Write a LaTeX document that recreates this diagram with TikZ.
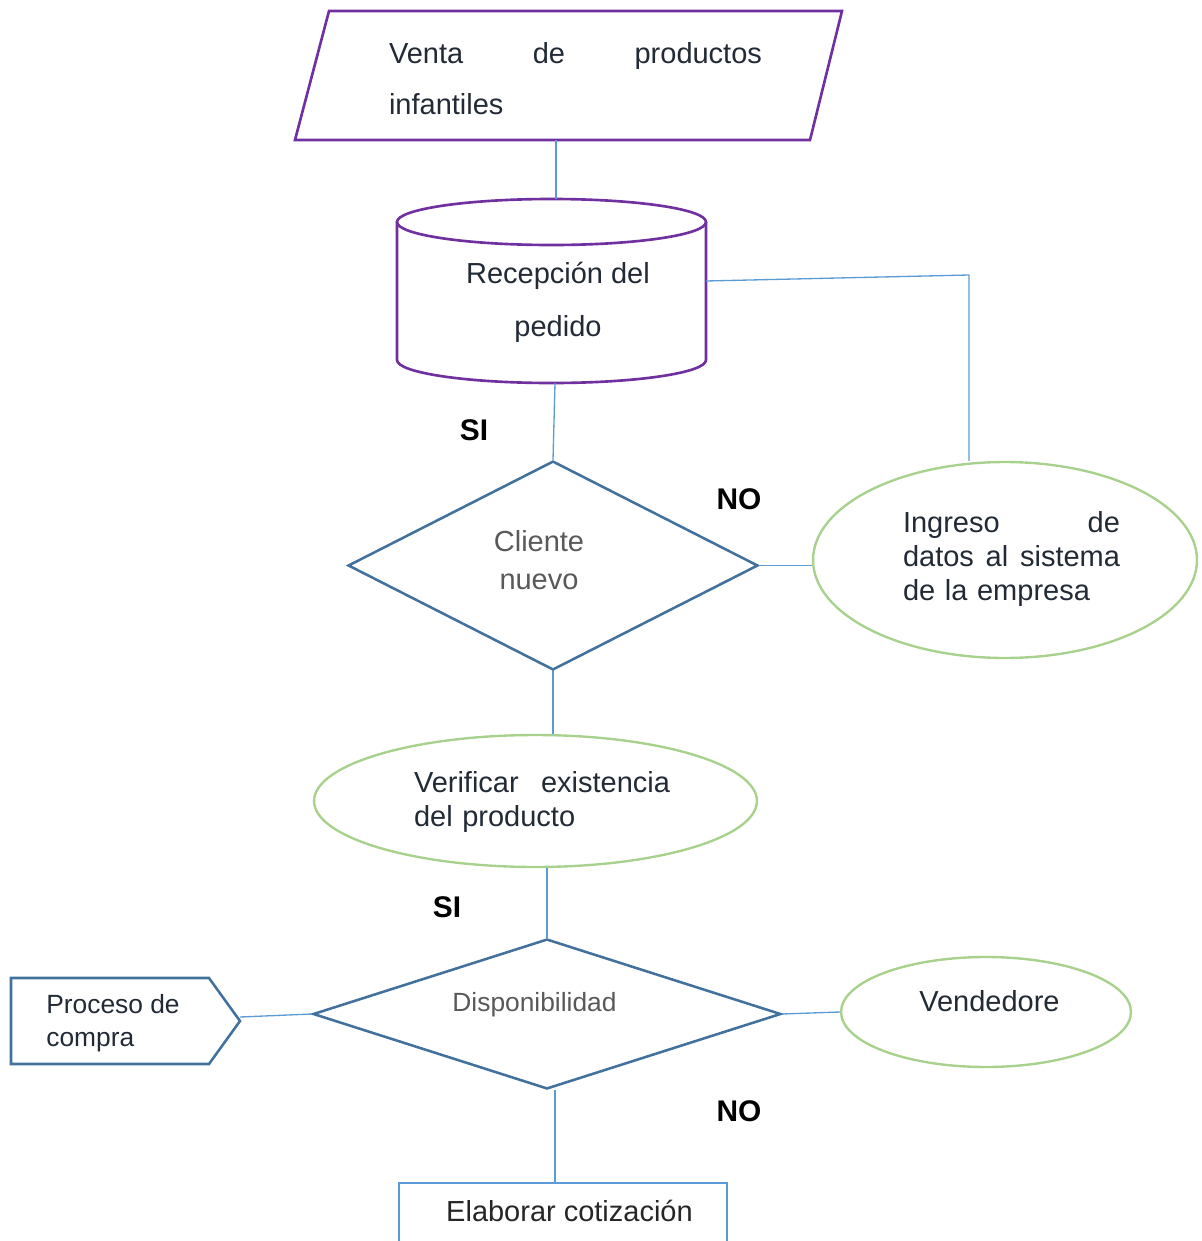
\documentclass[tikz,border=0pt]{standalone}
\usepackage{fontspec}
\setmainfont{Liberation Sans}
\usetikzlibrary{shapes.geometric}
\definecolor{purp}{HTML}{7030A0}
\definecolor{dblue}{HTML}{41719C}
\definecolor{lgreen}{HTML}{A9D18E}
\definecolor{lblue}{HTML}{5B9BD5}
\definecolor{ink}{HTML}{222A35}
\definecolor{greytxt}{HTML}{595959}
\begin{document}
\begin{tikzpicture}[x=0.02cm,y=-0.02cm,
  conn/.style={draw=lblue, line width=0.75pt},
  purpline/.style={draw=purp, line width=1.5pt, line join=miter},
  blueline/.style={draw=dblue, line width=1.45pt, line join=miter},
  oval/.style={ellipse, draw=lgreen, line width=1.35pt, inner sep=0pt},
  decision/.style={diamond, draw=dblue, line width=1.45pt, inner sep=0pt},
  txt/.style={text=ink, inner sep=0pt, font=\fontsize{16.5}{19.3}\selectfont},
  greyt/.style={text=greytxt, inner sep=0pt},
  lbl/.style={text=black, inner sep=0pt, font=\bfseries\fontsize{17}{20}\selectfont}]
\clip (0,0) rectangle (1201,1241);

% input parallelogram
\coordinate (parB) at (556,140);
\draw[purpline] (329,11) -- (842,11) -- (810,140) -- (295,140) -- cycle;
\node[txt, text width=7.46cm, align=left, font=\fontsize{16.5}{29}\selectfont] (venta) at (575.5,79)
  {Venta\hfill de\hfill productos\\infantiles};

% stored data cylinder
\coordinate (cylT) at (556,199);
\coordinate (cylB) at (555,383);
\coordinate (cylR) at (706,281);
\draw[purpline] (397,222) -- (397,360) arc[start angle=180, end angle=0, x radius=154.5, y radius=23] -- (706,222);
\draw[purpline] (551.5,222) ellipse[x radius=154.5, y radius=23];
\node[txt, align=center, font=\fontsize{16.5}{30}\selectfont] (recep) at (558,302) {Recepción del\\pedido};

% decision: new customer
\node[decision, minimum width=8.2cm, minimum height=4.18cm] (d1) at (553,565.5) {};
\node[greyt, align=center, font=\fontsize{16.5}{21.6}\selectfont] (d1t) at (539,560) {Cliente\\nuevo};

% data entry
\node[oval, minimum width=7.68cm, minimum height=3.92cm] (ing) at (1005,560) {};
\node[txt, text width=4.34cm, align=left] (ingt) at (1011.5,559)
  {Ingreso\hfill de\\datos\hfill al\hfill sistema\\de la empresa};

% stock check
\node[oval, minimum width=8.86cm, minimum height=2.64cm] (ver) at (535.5,801) {};
\node[txt, text width=5.12cm, align=left] (vert) at (542,802)
  {Verificar\hfill existencia\\del producto};

% decision: availability
\node[decision, minimum width=9.36cm, minimum height=3.0cm] (d2) at (547,1014) {};
\node[greyt, font=\fontsize{15}{18}\selectfont] (d2t) at (534.5,1005) {Disponibilidad};

% purchase process
\coordinate (pentTip) at (240,1017);
\draw[blueline] (11,978) -- (209,978) -- (240,1021) -- (209,1064) -- (11,1064) -- cycle;
\node[txt, anchor=west, align=left, font=\fontsize{15}{18.8}\selectfont] (proc) at (46,1023) {Proceso de\\compra};

% seller
\node[oval, minimum width=5.8cm, minimum height=2.2cm] (ven) at (986,1012) {};
\node[txt] (vent) at (989.5,1001) {Vendedore};

% quotation
\coordinate (elabT) at (555,1183);
\draw[draw=lblue, line width=1.2pt] (399,1260) -- (399,1183) -- (727,1183) -- (727,1260);
\node[txt, text=black!85] (elab) at (569.5,1211) {Elaborar cotización};

% branch labels
\node[lbl] (si1) at (474,430) {SI};
\node[lbl] (no1) at (739,499) {NO};
\node[lbl] (si2) at (447,907) {SI};
\node[lbl] (no2) at (739,1111) {NO};

% connectors
\coordinate (bend) at (969,275);
\draw[conn] (parB) -- (cylT);
\draw[conn] (cylR) -- (bend) -- (bend |- ing.north);
\draw[conn] (cylB) -- (d1.north);
\draw[conn] (d1.east) -- (d1.east -| ing.west);
\draw[conn] (d1.south) -- (d1.south |- ver.north);
\draw[conn] (d2.north |- ver.south) -- (d2.north);
\draw[conn] (pentTip) -- (d2.west);
\draw[conn] (d2.east) -- (ven.west);
\draw[conn] (d2.south -| elabT) -- (elabT);
\end{tikzpicture}
\end{document}
